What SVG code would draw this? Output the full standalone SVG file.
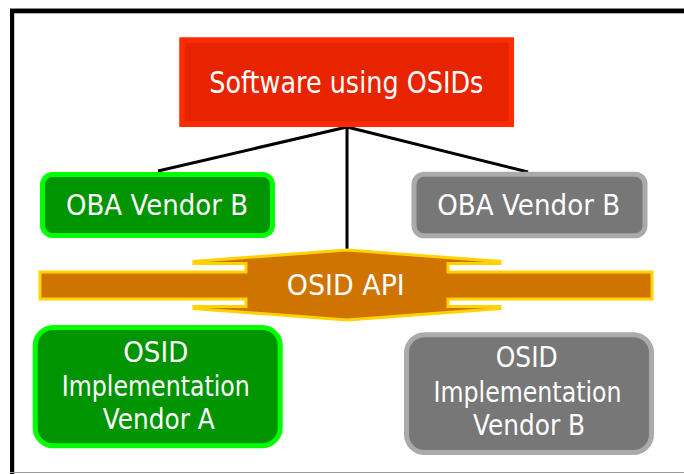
<svg xmlns="http://www.w3.org/2000/svg" width="684" height="474" viewBox="0 0 684 474">
  <style>
    .lbl { font-family: "DejaVu Sans", "Liberation Sans", sans-serif; fill: #ffffff; text-anchor: middle; }
    .big { font-size: 30px; }
    .mid { font-size: 28px; }
    .red { fill: #e82400; stroke: #ff2c00; stroke-width: 5.5; }
    .green { fill: #009400; stroke: #00ff00; stroke-width: 5; }
    .gray { fill: #777777; stroke: #aaaaaa; stroke-width: 5; }
    .api { fill: #cf7400; stroke: #ffd200; stroke-width: 3; stroke-linejoin: miter; }
    .wire { stroke: #000000; stroke-width: 3; fill: none; }
  </style>

  <rect x="0" y="0" width="684" height="474" fill="#ffffff"/>

  <!-- frame -->
  <g id="frame">
    <line x1="10" y1="8.5" x2="684" y2="8.5" stroke="#888888" stroke-width="1"/>
    <rect x="10" y="9" width="674" height="4.3" fill="#000000"/>
    <rect x="10" y="9" width="4.2" height="465" fill="#000000"/>
    <line x1="10" y1="472.5" x2="684" y2="472.5" stroke="#999999" stroke-width="1.2"/>
  </g>

  <!-- connectors -->
  <g id="connectors">
    <line class="wire" x1="347" y1="127" x2="158" y2="171"/>
    <line class="wire" x1="347" y1="127" x2="528" y2="172"/>
    <line class="wire" x1="347" y1="127" x2="347" y2="251"/>
  </g>

  <g id="software">
    <rect class="red" x="182" y="40" width="329.3" height="84.3"/>
    <text class="lbl big" x="346.3" y="93.3" textLength="274" lengthAdjust="spacingAndGlyphs">Software using OSIDs</text>
  </g>

  <g id="oba-vendor-b-green">
    <rect class="green" x="42.5" y="174.5" width="230" height="61" rx="10"/>
    <text class="lbl mid" x="157" y="215" textLength="182" lengthAdjust="spacingAndGlyphs">OBA Vendor B</text>
  </g>

  <g id="oba-vendor-b-gray">
    <rect class="gray" x="414" y="174.2" width="231" height="61.6" rx="10"/>
    <text class="lbl mid" x="528.7" y="215" textLength="183" lengthAdjust="spacingAndGlyphs">OBA Vendor B</text>
  </g>

  <g id="osid-api">
    <path class="api" d="M40,272 L246,272 L246,263.5 L194,263.5 L194,261.5 L347,250 L500,261.5 L500,263.5 L448,263.5 L448,272 L652,272 L652,299 L448,299 L448,306.5 L500,306.5 L500,308.5 L347,320 L194,308.5 L194,306.5 L246,306.5 L246,299 L40,299 Z"/>
    <text class="lbl mid" x="345.8" y="295" textLength="118" lengthAdjust="spacingAndGlyphs">OSID API</text>
  </g>

  <g id="impl-vendor-a">
    <rect class="green" x="35.2" y="327.5" width="245" height="118.3" rx="18"/>
    <text class="lbl mid" x="155.8" y="362.3" textLength="65" lengthAdjust="spacingAndGlyphs">OSID</text>
    <text class="lbl mid" x="155.8" y="395.7" textLength="188" lengthAdjust="spacingAndGlyphs">Implementation</text>
    <text class="lbl mid" x="158.8" y="429" textLength="112" lengthAdjust="spacingAndGlyphs">Vendor A</text>
  </g>

  <g id="impl-vendor-b">
    <rect class="gray" x="406.5" y="334.8" width="245" height="117.7" rx="18"/>
    <text class="lbl mid" x="526.7" y="366.7" textLength="62" lengthAdjust="spacingAndGlyphs">OSID</text>
    <text class="lbl mid" x="527.5" y="401.7" textLength="188" lengthAdjust="spacingAndGlyphs">Implementation</text>
    <text class="lbl mid" x="529" y="435" textLength="112" lengthAdjust="spacingAndGlyphs">Vendor B</text>
  </g>
</svg>
